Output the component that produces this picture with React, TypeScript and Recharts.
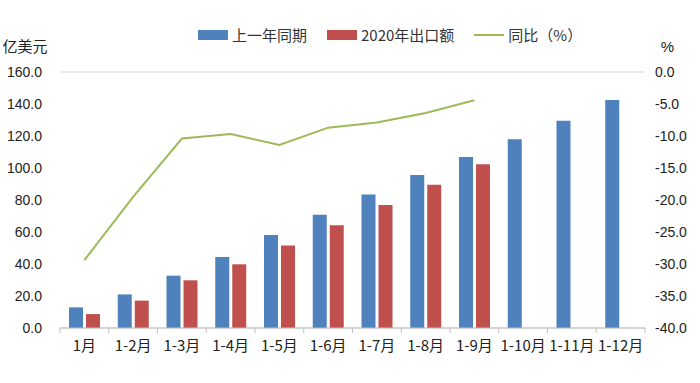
import { Bar, CartesianGrid, ComposedChart, Legend, Line, XAxis, YAxis } from "recharts";

const categories = ["1月", "1-2月", "1-3月", "1-4月", "1-5月", "1-6月", "1-7月", "1-8月", "1-9月", "1-10月", "1-11月", "1-12月"];
const lastYear = [12.9, 21.0, 32.7, 44.4, 58.1, 70.8, 83.5, 95.6, 106.8, 118.0, 129.5, 142.5];
const exports2020: (number | null)[] = [8.7, 17.1, 29.8, 39.8, 51.5, 64.2, 76.9, 89.6, 102.3, null, null, null];
const yoy: (number | null)[] = [-29.4, -19.5, -10.4, -9.7, -11.4, -8.7, -7.9, -6.4, -4.4, null, null, null];

const leftTicks = [0, 20, 40, 60, 80, 100, 120, 140, 160];
const rightTicks = [0, -5, -10, -15, -20, -25, -30, -35, -40];

const data = categories.map((name, i) => ({
  name,
  lastYear: lastYear[i],
  exports2020: exports2020[i],
  yoy: yoy[i],
}));

const FONT = "'Liberation Sans', 'Noto Sans CJK SC', sans-serif";
const CJK = "'Noto Sans CJK SC', sans-serif";
const TICK_GAP = 13;

const legendItems = [
  { label: "上一年同期", color: "#4f81bd", kind: "rect" },
  { label: "2020年出口额", color: "#c0504d", kind: "rect" },
  { label: "同比（%）", color: "#9bbb59", kind: "line" },
];

function ChartLegend() {
  return (
    <div style={{ display: "flex", alignItems: "center", fontFamily: CJK, fontSize: 15, color: "#333" }}>
      {legendItems.map((item) => (
        <div key={item.label} style={{ display: "flex", alignItems: "center", marginRight: 20 }}>
          <span
            style={{
              display: "inline-block",
              width: 30,
              height: item.kind === "rect" ? 10 : 2,
              background: item.color,
              marginRight: 4,
            }}
          />
          {item.label}
        </div>
      ))}
    </div>
  );
}

// category label plus a small tick mark on the left edge of each band (Excel style)
function CategoryTick(props: any) {
  const { x, y, payload, width, visibleTicksCount, index } = props;
  const count = visibleTicksCount || categories.length;
  const half = width / count / 2;
  const axisY = y - TICK_GAP;
  const isLast = index === count - 1;
  return (
    <g>
      <line x1={x - half} x2={x - half} y1={axisY} y2={axisY + 5} stroke="#bfbfbf" />
      {isLast && <line x1={x + half} x2={x + half} y1={axisY} y2={axisY + 5} stroke="#bfbfbf" />}
      <text x={x} y={y} dy={10} textAnchor="middle" fill="#222" fontSize={15} fontFamily={CJK}>
        {payload.value}
      </text>
    </g>
  );
}

export default function App() {
  return (
    <div style={{ position: "absolute", left: 0, top: 0, background: "#fff" }}>
      <ComposedChart
        width={700}
        height={383}
        data={data}
        margin={{ top: 72, right: 0, left: 0, bottom: 0 }}
        barSize={14}
        barGap={3}
      >
        <CartesianGrid vertical={false} stroke="#d9d9d9" />
        <XAxis
          dataKey="name"
          height={55}
          interval={0}
          tickLine={false}
          stroke="#bfbfbf"
          tickSize={0}
          tickMargin={TICK_GAP}
          tick={(p: any) => <CategoryTick {...p} />}
        />
        <YAxis
          yAxisId="left"
          width={60}
          domain={[0, 160]}
          ticks={leftTicks}
          axisLine={false}
          tickLine={false}
          tickSize={0}
          tickMargin={18}
          tickFormatter={(v) => Number(v).toFixed(1)}
          tick={{ fill: "#222", fontSize: 14, fontFamily: FONT }}
          label={{ value: "亿美元", position: "top", offset: 20, dx: -5, fill: "#222", fontSize: 15, fontFamily: CJK }}
        />
        <YAxis
          yAxisId="right"
          orientation="right"
          width={55}
          domain={[-40, 0]}
          ticks={rightTicks}
          axisLine={false}
          tickLine={false}
          tickSize={0}
          tickMargin={10}
          tickFormatter={(v) => Number(v).toFixed(1)}
          tick={{ fill: "#222", fontSize: 14, fontFamily: FONT }}
          label={{ value: "%", position: "top", offset: 20, dx: -5, fill: "#222", fontSize: 15, fontFamily: FONT }}
        />
        <Legend
          verticalAlign="middle"
          align="center"
          layout="horizontal"
          content={() => <ChartLegend />}
          wrapperStyle={{ top: 24, left: 198, width: "auto" }}
        />
        <Bar yAxisId="left" dataKey="lastYear" name="上一年同期" fill="#4f81bd" isAnimationActive={false} />
        <Bar yAxisId="left" dataKey="exports2020" name="2020年出口额" fill="#c0504d" isAnimationActive={false} />
        <Line
          yAxisId="right"
          dataKey="yoy"
          name="同比（%）"
          stroke="#9bbb59"
          strokeWidth={2}
          dot={false}
          type="linear"
          isAnimationActive={false}
        />
      </ComposedChart>
    </div>
  );
}
